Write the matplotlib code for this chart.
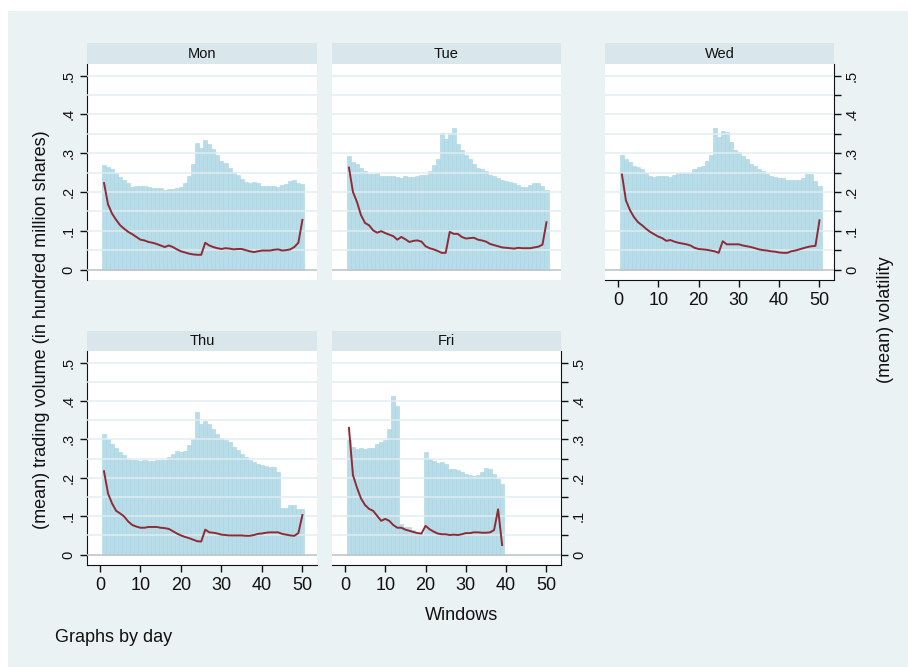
import numpy as np
import matplotlib
matplotlib.use('Agg')
import matplotlib.pyplot as plt
from matplotlib.patches import Rectangle

plt.rcParams['font.family'] = ['Liberation Sans', 'DejaVu Sans']

# colours (Stata s2color look)
outer_bg = '#EAF2F3'
strip_bg = '#D9E6EB'
bar_color = '#B8DDE8'
bar_edge = '#A9D5E1'
line_color = '#8E2B36'
grid_color = '#E2EDF0'

days = ['Mon', 'Tue', 'Wed', 'Thu', 'Fri']

volume = {
    'Mon': [.269, .265, .259, .250, .239, .230, .222, .213, .215, .215,
            .215, .213, .209, .210, .210, .206, .207, .207, .209, .213,
            .223, .241, .271, .325, .314, .334, .323, .310, .295, .280,
            .275, .262, .252, .243, .234, .226, .223, .226, .223, .216,
            .215, .216, .215, .213, .218, .221, .228, .232, .223, .221],
    'Tue': [.292, .276, .271, .262, .254, .247, .246, .250, .242, .242,
            .242, .242, .239, .237, .240, .238, .239, .240, .243, .244,
            .253, .269, .286, .351, .337, .351, .366, .323, .308, .295,
            .286, .273, .262, .258, .253, .245, .241, .236, .232, .229,
            .226, .222, .219, .212, .213, .217, .224, .222, .215, .204],
    'Wed': [.295, .284, .277, .268, .265, .258, .250, .241, .239, .242,
            .241, .241, .239, .243, .250, .248, .248, .250, .259, .265,
            .266, .279, .295, .366, .341, .358, .354, .328, .308, .303,
            .294, .285, .273, .266, .260, .253, .247, .242, .239, .237,
            .235, .232, .232, .232, .232, .237, .246, .246, .228, .216],
    'Thu': [.315, .301, .288, .278, .267, .259, .250, .246, .246, .243,
            .245, .243, .243, .245, .246, .246, .253, .263, .269, .267,
            .270, .285, .302, .370, .341, .349, .341, .327, .315, .304,
            .298, .292, .281, .272, .263, .255, .246, .240, .235, .233,
            .231, .229, .229, .216, .122, .122, .129, .129, .120, .120],
    'Fri': [.298, .281, .275, .277, .275, .278, .278, .287, .292, .298,
            .327, .413, .386, .081, .073, .073, .064, .053, .053, .266,
            .250, .244, .239, .240, .235, .224, .223, .219, .216, .210,
            .207, .205, .207, .216, .226, .223, .210, .196, .184],
}

volatility = {
    'Mon': [.223, .168, .144, .128, .114, .105, .097, .091, .084, .077,
            .075, .071, .069, .066, .062, .058, .062, .058, .052, .047,
            .044, .041, .039, .038, .038, .069, .062, .058, .055, .053,
            .055, .054, .052, .053, .053, .050, .047, .045, .047, .049,
            .049, .049, .051, .052, .049, .050, .052, .058, .069, .128],
    'Tue': [.263, .200, .174, .140, .120, .114, .101, .095, .099, .094,
            .090, .086, .077, .084, .078, .071, .074, .075, .072, .060,
            .055, .052, .048, .043, .043, .097, .092, .092, .084, .080,
            .081, .082, .077, .075, .072, .066, .063, .060, .057, .056,
            .055, .054, .056, .055, .055, .055, .057, .059, .064, .122],
    'Wed': [.245, .178, .153, .135, .122, .114, .105, .097, .091, .085,
            .081, .074, .076, .072, .069, .067, .065, .062, .056, .053,
            .052, .051, .049, .047, .043, .073, .065, .065, .065, .065,
            .062, .060, .058, .055, .052, .050, .049, .047, .046, .044,
            .043, .043, .047, .049, .052, .055, .058, .060, .061, .127],
    'Thu': [.217, .159, .133, .114, .107, .099, .086, .077, .073, .070,
            .070, .072, .072, .072, .070, .069, .067, .061, .055, .050,
            .046, .043, .039, .035, .034, .065, .058, .057, .055, .052,
            .051, .050, .050, .050, .050, .049, .049, .051, .054, .055,
            .057, .058, .058, .058, .054, .052, .050, .049, .056, .103],
    'Fri': [.330, .207, .174, .146, .129, .119, .114, .101, .088, .093,
            .088, .077, .070, .070, .065, .062, .059, .056, .055, .075,
            .066, .060, .055, .053, .053, .051, .052, .051, .053, .056,
            .056, .058, .058, .057, .057, .058, .064, .118, .025],
}

x_ticks = [0, 10, 20, 30, 40, 50]
y_ticks = [0, .1, .2, .3, .4, .5]
y_labels = ['0', '.1', '.2', '.3', '.4', '.5']

W, H = 908, 667
fig = plt.figure(figsize=(W / 100, H / 100), dpi=100)
fig.patch.set_facecolor('white')
fig.patches.append(Rectangle((8 / W, 0), 1 - 8 / W, (H - 11) / H,
                             transform=fig.transFigure, facecolor=outer_bg,
                             edgecolor='none', zorder=-10))

# panel boxes in pixels: left, right, top of strip, top of plot, bottom of plot
panels = {
    'Mon': (87, 317, 43, 64, 280),
    'Tue': (332, 561, 43, 64, 280),
    'Wed': (605, 834, 43, 64, 280),
    'Thu': (87, 317, 331, 351, 565),
    'Fri': (332, 561, 331, 351, 565),
}
left_axis = ['Mon', 'Thu']
right_axis = ['Wed', 'Fri']
bottom_axis = ['Wed', 'Thu', 'Fri']

for day in days:
    x0, x1, st, pt, pb = panels[day]
    ax = fig.add_axes([x0 / W, (H - pb) / H, (x1 - x0) / W, (pb - pt) / H])
    sax = fig.add_axes([x0 / W, (H - pt) / H, (x1 - x0) / W, (pt - st) / H])
    sax.set_facecolor(strip_bg)
    sax.set_xticks([])
    sax.set_yticks([])
    for s in sax.spines.values():
        s.set_visible(False)
    sax.text(0.5, 0.5, day, ha='center', va='center', fontsize=10.5,
             color='#111111', transform=sax.transAxes)

    vol = volume[day]
    vola = volatility[day]
    win = np.arange(1, len(vol) + 1)
    ax.bar(win, vol, width=1.0, color=bar_color, edgecolor=bar_edge,
           linewidth=0.4, zorder=2)
    for g in np.arange(0.05, 0.55, 0.05):
        ax.axhline(g, color=grid_color, lw=1.4, alpha=0.75, zorder=3)
    ax.axhline(0, color='#BFC7CA', lw=1.2, zorder=3)
    ax.plot(win, vola, color=line_color, lw=1.4, zorder=4)

    ax.set_xlim(-3.2, 53.6)
    ax.set_ylim(-0.027, 0.53)
    ax.set_facecolor('white')
    for s in ax.spines.values():
        s.set_visible(False)

    ax.tick_params(axis='both', colors='#111111', length=5, width=1)
    if day in bottom_axis:
        ax.spines['bottom'].set_visible(True)
        ax.spines['bottom'].set_color('#111111')
        ax.set_xticks(x_ticks)
        ax.set_xticklabels([str(t) for t in x_ticks], fontsize=13)
    else:
        ax.set_xticks([])

    if day in left_axis:
        ax.spines['left'].set_visible(True)
        ax.spines['left'].set_color('#111111')
        ax.set_yticks(y_ticks)
        ax.set_yticklabels(y_labels, fontsize=10.5, rotation=90, va='center')
    elif day in right_axis:
        ax.spines['right'].set_visible(True)
        ax.spines['right'].set_color('#111111')
        ax.yaxis.tick_right()
        ax.set_yticks(y_ticks)
        ax.set_yticks(np.arange(0.05, 0.5, 0.1), minor=True)
        ax.set_yticklabels(y_labels, fontsize=10.5, rotation=90, va='center')
        ax.tick_params(axis='y', which='both', right=True, left=False,
                       length=5, width=1, colors='#111111', pad=3)
    else:
        ax.set_yticks([])

fig.text(42 / W, 1 - 330 / H,
         '(mean) trading volume (in hundred million shares)',
         rotation=90, ha='center', va='center', fontsize=13, color='#111111')
fig.text(885 / W, 1 - 320 / H, '(mean) volatility',
         rotation=90, ha='center', va='center', fontsize=13, color='#111111')
fig.text(462 / W, 1 - 615 / H, 'Windows', ha='center', va='center',
         fontsize=13, color='#111111')
fig.text(55 / W, 1 - 638 / H, 'Graphs by day', ha='left', va='center',
         fontsize=13, color='#111111')

fig.savefig('out.png', dpi=100, facecolor=fig.get_facecolor())
